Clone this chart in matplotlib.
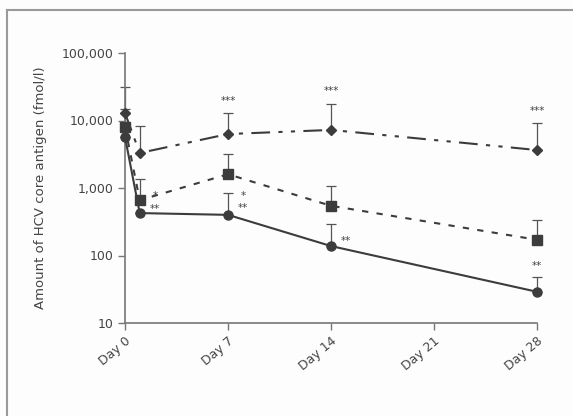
import matplotlib
matplotlib.use("Agg")
import matplotlib.pyplot as plt
from matplotlib.lines import Line2D

days = [0, 1, 7, 14, 28]
tick_days = [0, 7, 14, 21, 28]
tick_labels = ["Day 0", "Day 7", "Day 14", "Day 21", "Day 28"]
y_ticks = [10, 100, 1000, 10000, 100000]
y_tick_labels = ["10", "100", "1,000", "10,000", "100,000"]

diamond_vals = [12900, 3300, 6300, 7250, 3650]
diamond_err = [18700, 5100, 6600, 10350, 5450]
square_vals = [8100, 660, 1600, 545, 171]
square_err = [6900, 700, 1600, 525, 169]
circle_vals = [5700, 425, 400, 138, 29]
circle_err = [0, 0, 450, 158, 19]

diamond_stars = [(2, "***"), (3, "***"), (4, "***")]
square_stars = [(1, "*"), (2, "*")]
circle_stars = [(1, "**"), (2, "**"), (3, "**"), (4, "**")]

col = "#3c3c3c"
fig = plt.figure(figsize=(5.73, 4.16), dpi=100)
fig.patch.set_facecolor("#fdfdfd")
fig.add_artist(Line2D([7/573, 7/573], [0, 1-10/416], transform=fig.transFigure, color="#9a9a9a", lw=1.5))
fig.add_artist(Line2D([7/573, 1], [1-10/416, 1-10/416], transform=fig.transFigure, color="#9a9a9a", lw=1.5))

ax = fig.add_axes([125/573, 1-323/416, (537-125)/573, (323-53)/416])
ax.set_facecolor("#fdfdfd")
ax.set_yscale("log")

def draw(vals, errs, marker, ms, ls):
    _, caps, bars = ax.errorbar(days, vals, yerr=[[0]*len(vals), errs], fmt="none",
                ecolor="#555555", elinewidth=0.9, capsize=3.5, capthick=0.9, zorder=2)
    for c in caps:
        c.set_clip_on(False)
    for b in bars:
        b.set_clip_on(False)
    ax.plot(days, vals, color=col, lw=1.5, linestyle=ls, marker=marker,
            ms=ms, mfc=col, mec=col, zorder=3, clip_on=False)

draw(diamond_vals, diamond_err, "D", 5.5, (0, (9, 4, 2, 4, 2, 4)))
draw(square_vals, square_err, "s", 6.5, (0, (3, 4)))
draw(circle_vals, circle_err, "o", 6.5, "-")

kw = dict(color="#444444", fontsize=7.5, ha="center", va="center", textcoords="offset points")
for i, s in diamond_stars:
    ax.annotate(s, (days[i], diamond_vals[i] + diamond_err[i]), xytext=(0, 9), **kw)
for i, s in square_stars:
    ax.annotate(s, (days[i], square_vals[i]), xytext=(11, 3 if i == 1 else -16), **kw)
for i, s in circle_stars:
    if i == 4:
        ax.annotate(s, (days[i], circle_vals[i] + circle_err[i]), xytext=(0, 8), **kw)
    elif i == 3:
        ax.annotate(s, (days[i], circle_vals[i]), xytext=(11, 4), **kw)
    else:
        ax.annotate(s, (days[i], circle_vals[i]), xytext=(11, 3 if i == 1 else 5), **kw)

ax.set_xlim(0, 28)
ax.set_ylim(10, 100000)
ax.set_xticks(tick_days)
ax.set_xticklabels(tick_labels, rotation=40, ha="right", rotation_mode="anchor")
ax.set_yticks(y_ticks)
ax.set_yticklabels(y_tick_labels)
ax.minorticks_off()
for s in ["top", "right"]:
    ax.spines[s].set_visible(False)
for s in ["left", "bottom"]:
    ax.spines[s].set_color("#777777")
    ax.spines[s].set_linewidth(1.2)
ax.tick_params(colors="#777777", labelcolor="#444444", labelsize=9, length=5, width=1)
ax.set_ylabel("Amount of HCV core antigen (fmol/l)", fontsize=9.5, color="#444444", labelpad=10)

fig.savefig("out.png", dpi=100, facecolor=fig.get_facecolor())
